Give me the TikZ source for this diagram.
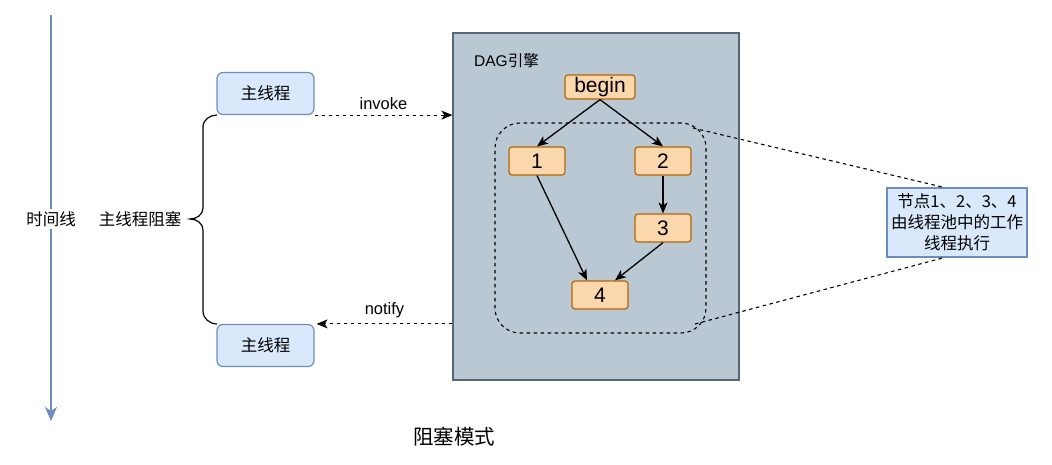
\documentclass[tikz,border=0pt]{standalone}
\usepackage{fontspec}
\setmainfont{Liberation Sans}
\newfontfamily\cjk{Noto Sans CJK SC}
\usetikzlibrary{arrows.meta}
\definecolor{bluefill}{HTML}{DAE8FC}
\definecolor{bluedraw}{HTML}{6C8EBF}
\definecolor{orfill}{HTML}{FAD7AC}
\definecolor{ordraw}{HTML}{B46504}
\definecolor{dagfill}{HTML}{BAC8D3}
\definecolor{dagdraw}{HTML}{56677A}
\tikzset{
  thread/.style={draw=bluedraw, fill=bluefill, rounded corners=6pt, line width=1.2pt, minimum width=97pt, minimum height=42pt, inner sep=0pt, font=\cjk\fontsize{16.5}{19}\selectfont},
  task/.style={draw=ordraw, fill=orfill, rounded corners=3pt, line width=1.2pt, minimum width=56pt, minimum height=28pt, inner sep=0pt, font=\fontsize{21}{24}\selectfont},
  lbl/.style={inner sep=1pt, font=\fontsize{16.5}{19}\selectfont},
  cjklbl/.style={inner sep=1pt, font=\cjk\fontsize{16.5}{19}\selectfont},
  dashline/.style={line width=1.1pt, dash pattern=on 3.5pt off 3.5pt},
  arr/.style={-{Stealth[length=11pt,width=9pt,inset=3pt]}},
  solidarr/.style={line width=1.3pt, -{Stealth[length=11pt,width=9pt,inset=3pt]}},
}
\begin{document}
\begin{tikzpicture}[x=1pt,y=-1pt]
\useasboundingbox (0,0) rectangle (1052,464);
% timeline
\coordinate (tl0) at (51,15);
\coordinate (tl1) at (51,421);
\draw[bluedraw, line width=1.3pt, -{Stealth[length=14pt,width=12pt,inset=4pt]}] (tl0) -- (tl1);
\node[cjklbl, fill=white, inner sep=2pt] (timeline) at (51,219) {时间线};
\node[cjklbl] (block) at (140,219) {主线程阻塞};
% brace
\draw[line width=1.2pt] (217,115) to[out=180,in=90] (203,127) -- (203,208) to[out=-90,in=0] (190,219)
  to[out=0,in=90] (203,230) -- (203,311) to[out=-90,in=180] (217,324);
% threads
\node[thread] (t1) at (265.5,93.5) {主线程};
\node[thread] (t2) at (265.5,345.5) {主线程};
% DAG engine
\node[draw=dagdraw, fill=dagfill, line width=1.2pt, minimum width=286pt, minimum height=347pt, inner sep=0pt] (dag) at (596,206.5) {};
\node[anchor=west, inner sep=0pt, font=\fontsize{15.5}{18}\selectfont] (dagt) at (474,61) {DAG{\cjk 引擎}};
% pool
\node[draw, dashline, rounded corners=25pt, minimum width=211pt, minimum height=210pt, inner sep=0pt] (pool) at (600.5,228) {};
% tasks
\node[task, minimum width=70pt, minimum height=24pt] (begin) at (600,87) {begin};
\node[task] (n1) at (537,161) {1};
\node[task] (n2) at (663,161) {2};
\node[task] (n3) at (663,228) {3};
\node[task] (n4) at (600,295) {4};
\draw[solidarr] (begin.south) -- (n1.north);
\draw[solidarr] (begin.south) -- (n2.north);
\draw[solidarr] (n2.south) -- (n3.north);
\draw[solidarr] (n1.south) -- ([xshift=-13pt]n4.north);
\draw[solidarr] (n3.south) -- ([xshift=15pt]n4.north);
% invoke / notify
\draw[dashline, arr] (t1.south east) -- (dag.west |- t1.south east) node[midway, above=4pt, lbl] (inv) {invoke};
\draw[dashline, arr] (dag.west |- t2.north east) -- ([xshift=2pt]t2.north east) node[midway, above=4pt, lbl] (noti) {notify};
% note
\node[draw=bluedraw, fill=bluefill, line width=1.2pt, minimum width=140pt, minimum height=69pt, inner sep=0pt, align=center, font=\cjk\fontsize{16.5}{21}\selectfont] (note) at (957,222.5) {节点1、2、3、4\\由线程池中的工作\\线程执行};
\coordinate (pt) at (693,128);
\coordinate (pb) at (695,324);
\draw[dashline] (pt) -- ([xshift=-13pt]note.north);
\draw[dashline] (pb) -- ([xshift=-13pt]note.south);
% title
\node[cjklbl, font=\cjk\fontsize{20.5}{24}\selectfont] (title) at (454,437) {阻塞模式};
\end{tikzpicture}
\end{document}
